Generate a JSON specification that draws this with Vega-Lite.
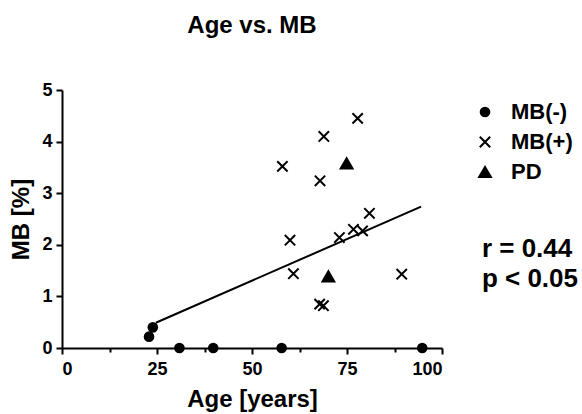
{
  "$schema": "https://vega.github.io/schema/vega-lite/v6.json",
  "width": 380,
  "height": 258,
  "autosize": {"type": "none"},
  "padding": {"left": 62, "top": 90, "right": 140, "bottom": 66},
  "background": "white",
  "title": {
    "text": "Age vs. MB",
    "anchor": "middle",
    "frame": "group",
    "offset": 43,
    "fontSize": 24,
    "font": "Liberation Sans",
    "fontWeight": "bold",
    "color": "black"
  },
  "config": {
    "view": {"stroke": null},
    "font": "Liberation Sans",
    "axis": {
      "domainColor": "black",
      "domainWidth": 2,
      "tickColor": "black",
      "tickWidth": 2,
      "grid": false,
      "labelFont": "Liberation Sans",
      "labelFontWeight": "bold",
      "labelFontSize": 18,
      "labelColor": "black",
      "titleFont": "Liberation Sans",
      "titleFontWeight": "bold",
      "titleFontSize": 24,
      "titleColor": "black"
    }
  },
  "layer": [
    {
      "data": {
        "values": [
          {"age": 22.9, "mb": 0.22, "group": "MB(-)"},
          {"age": 23.9, "mb": 0.40, "group": "MB(-)"},
          {"age": 30.9, "mb": 0.0, "group": "MB(-)"},
          {"age": 39.8, "mb": 0.0, "group": "MB(-)"},
          {"age": 57.8, "mb": 0.0, "group": "MB(-)"},
          {"age": 94.8, "mb": 0.0, "group": "MB(-)"},
          {"age": 77.8, "mb": 4.45, "group": "MB(+)"},
          {"age": 68.9, "mb": 4.10, "group": "MB(+)"},
          {"age": 58.0, "mb": 3.52, "group": "MB(+)"},
          {"age": 67.9, "mb": 3.24, "group": "MB(+)"},
          {"age": 80.9, "mb": 2.61, "group": "MB(+)"},
          {"age": 60.0, "mb": 2.09, "group": "MB(+)"},
          {"age": 73.0, "mb": 2.14, "group": "MB(+)"},
          {"age": 76.7, "mb": 2.30, "group": "MB(+)"},
          {"age": 79.1, "mb": 2.27, "group": "MB(+)"},
          {"age": 60.9, "mb": 1.44, "group": "MB(+)"},
          {"age": 89.4, "mb": 1.43, "group": "MB(+)"},
          {"age": 67.8, "mb": 0.85, "group": "MB(+)"},
          {"age": 68.8, "mb": 0.82, "group": "MB(+)"},
          {"age": 74.9, "mb": 3.58, "group": "PD"},
          {"age": 70.1, "mb": 1.39, "group": "PD"}
        ]
      },
      "mark": {"type": "point", "filled": true, "color": "black", "stroke": "black", "strokeWidth": 2, "opacity": 1},
      "encoding": {
        "x": {
          "field": "age",
          "type": "quantitative",
          "scale": {"domain": [0, 100], "nice": false},
          "axis": {
            "title": "Age [years]",
            "values": [0, 12.5, 25, 37.5, 50, 62.5, 75, 87.5, 100],
            "labelExpr": "datum.value % 25 == 0 ? datum.label : ''",
            "tickSize": {"condition": {"test": "datum.value % 25 == 0", "value": 6}, "value": 4},
            "labelPadding": 6,
            "titlePadding": 9
          }
        },
        "y": {
          "field": "mb",
          "type": "quantitative",
          "scale": {"domain": [0, 5], "nice": false},
          "axis": {
            "title": "MB [%]",
            "values": [0, 0.5, 1, 1.5, 2, 2.5, 3, 3.5, 4, 4.5, 5],
            "labelExpr": "datum.value % 1 == 0 ? datum.label : ''",
            "tickSize": {"condition": {"test": "datum.value % 1 == 0", "value": 6}, "value": 4},
            "labelPadding": 4,
            "titlePadding": 8
          }
        },
        "shape": {
          "field": "group",
          "type": "nominal",
          "scale": {"domain": ["MB(-)", "MB(+)", "PD"], "range": ["circle", "M-1,-1L1,1M-1,1L1,-1", "triangle-up"]},
          "legend": {
            "title": null,
            "orient": "none",
            "legendX": 412,
            "legendY": 11,
            "padding": 0,
            "labelFont": "Liberation Sans",
            "labelFontWeight": "bold",
            "labelFontSize": 22,
            "labelColor": "black",
            "labelOffset": 15,
            "rowPadding": 8,
            "symbolFillColor": "black",
            "symbolStrokeColor": "black",
            "symbolStrokeWidth": 2
          }
        },
        "size": {
          "field": "group",
          "type": "nominal",
          "scale": {"domain": ["MB(-)", "MB(+)", "PD"], "range": [75, 140, 60]}
        }
      }
    },
    {
      "data": {
        "values": [
          {"age": 24.7, "mb": 0.49},
          {"age": 94.5, "mb": 2.74}
        ]
      },
      "mark": {"type": "line", "color": "black", "strokeWidth": 2},
      "encoding": {
        "x": {"field": "age", "type": "quantitative"},
        "y": {"field": "mb", "type": "quantitative"}
      }
    },
    {
      "data": {
        "values": [
          {"age": 110.5, "mb": 1.76, "label": "r = 0.44"},
          {"age": 110.5, "mb": 1.18, "label": "p < 0.05"}
        ]
      },
      "mark": {"type": "text", "align": "left", "baseline": "alphabetic", "fontSize": 26, "fontWeight": "bold", "font": "Liberation Sans", "color": "black"},
      "encoding": {
        "x": {"field": "age", "type": "quantitative"},
        "y": {"field": "mb", "type": "quantitative"},
        "text": {"field": "label", "type": "nominal"}
      }
    }
  ]
}
